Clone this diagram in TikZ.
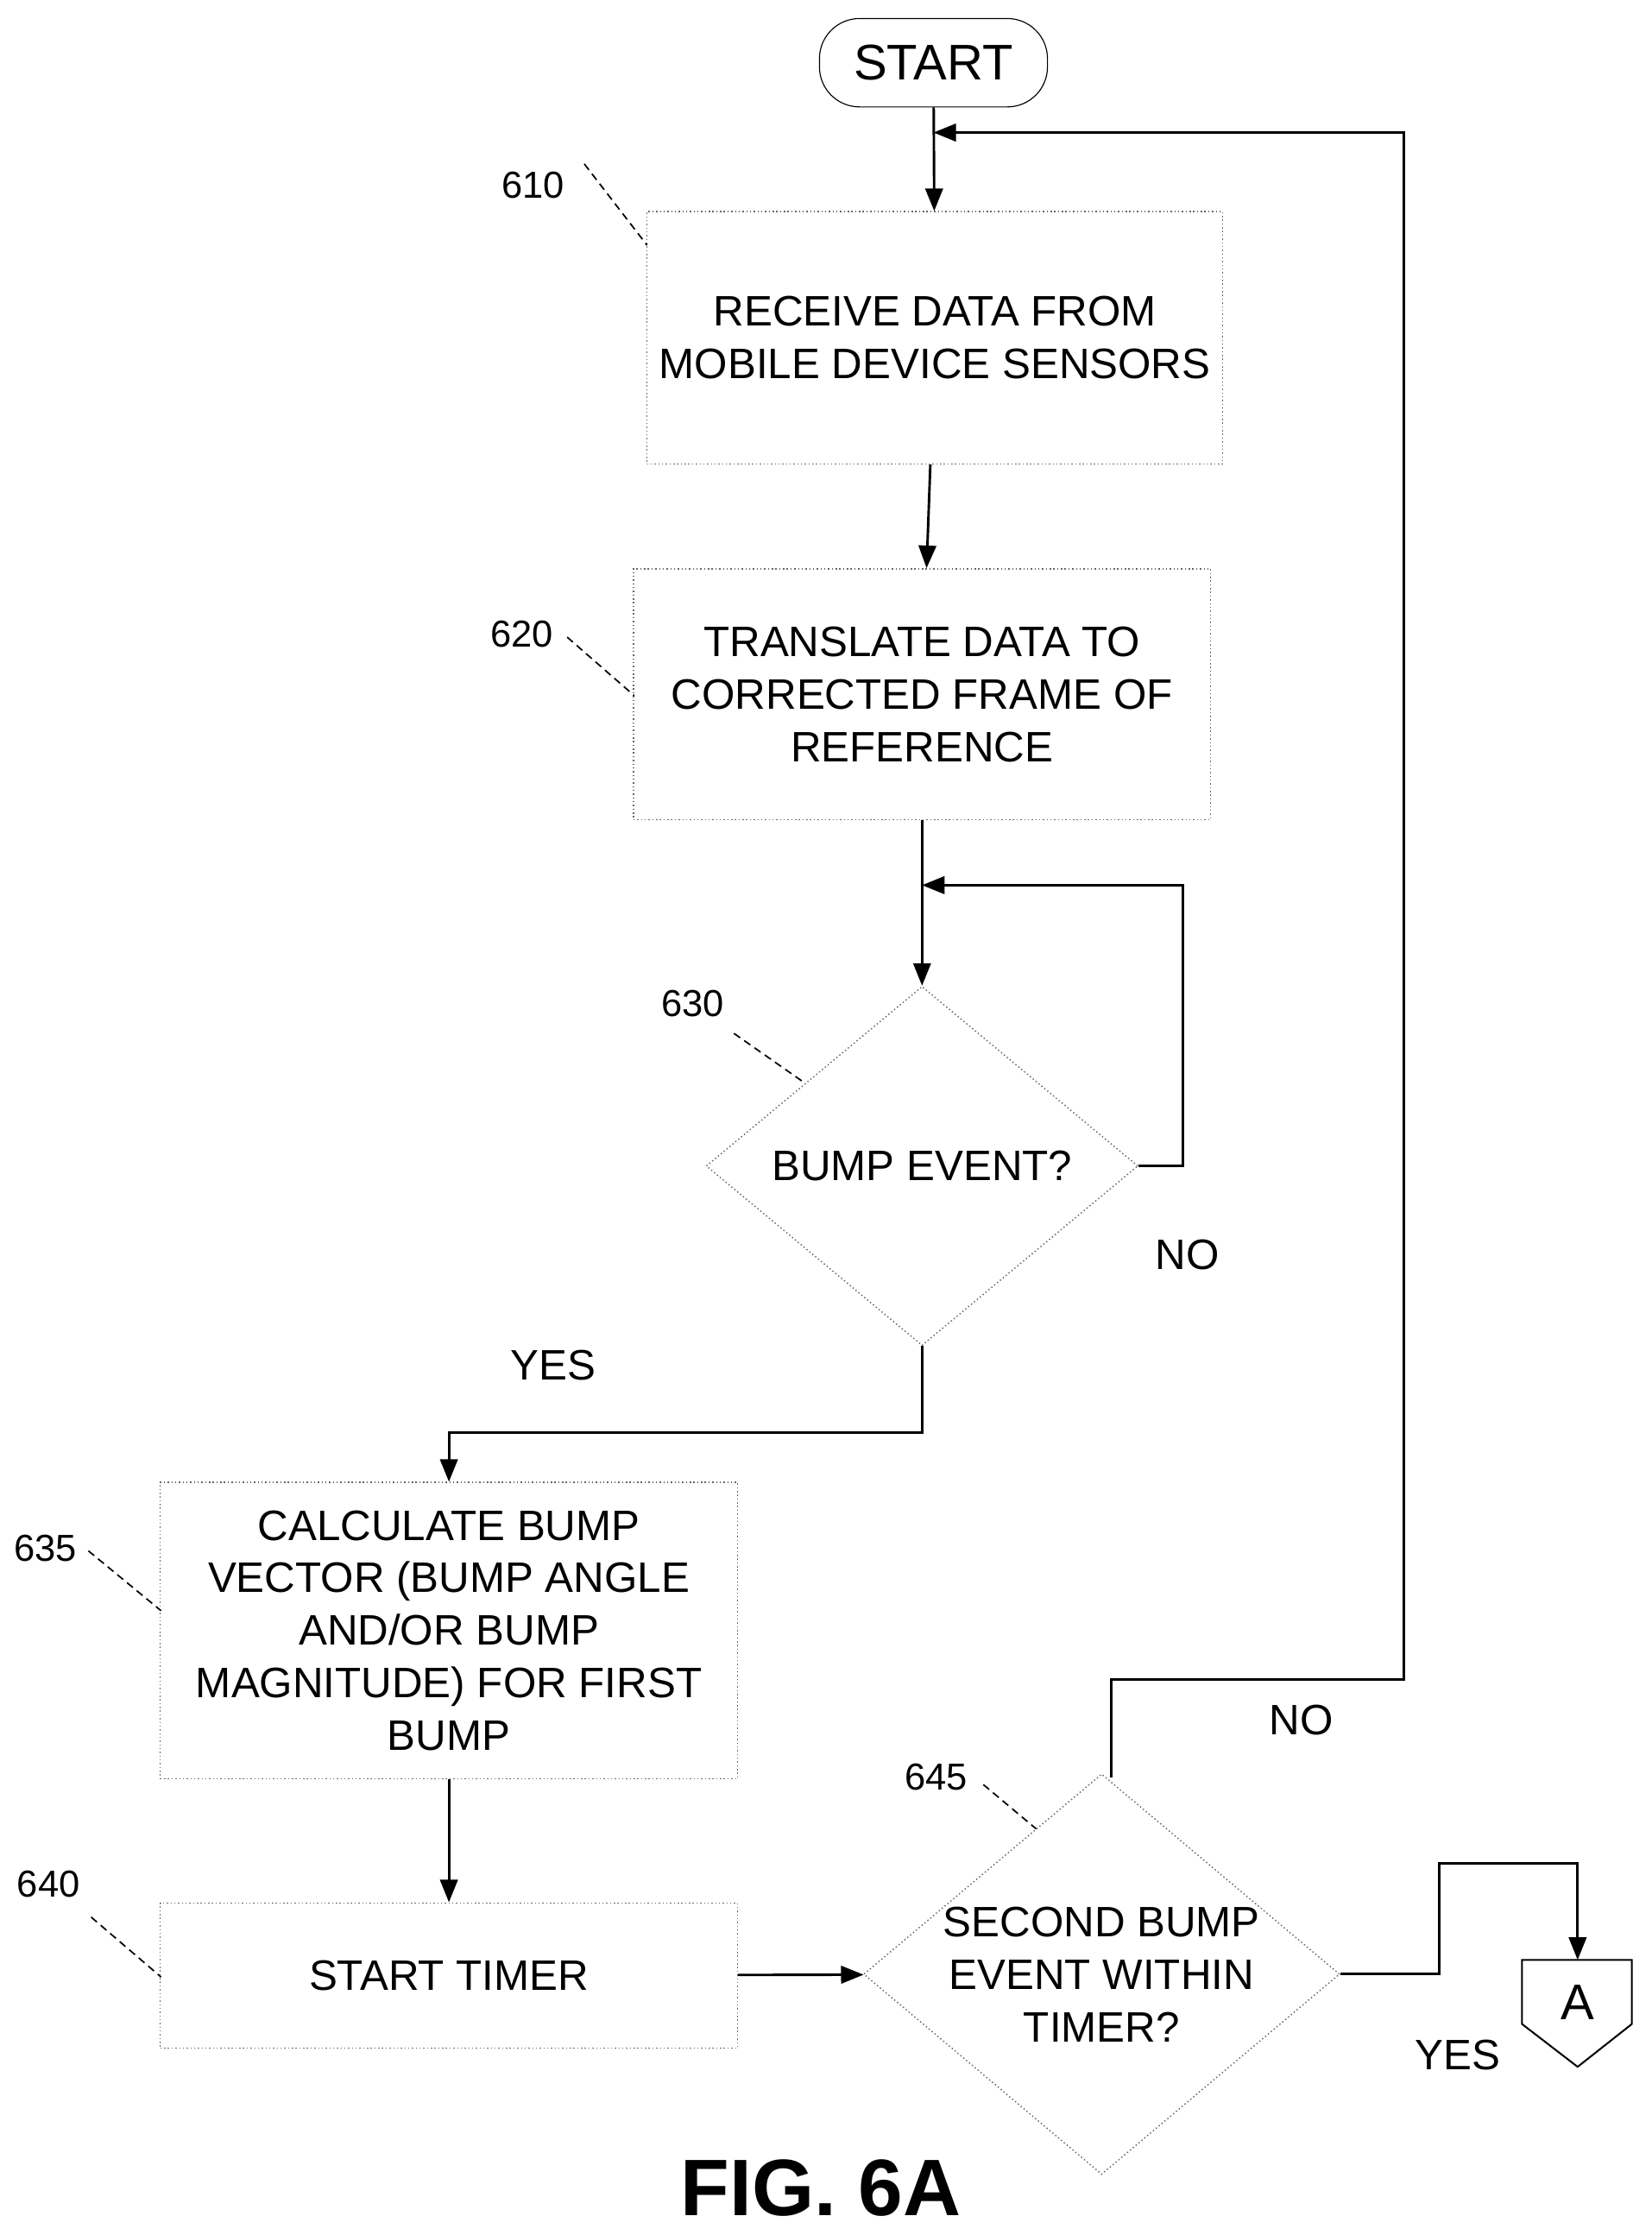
\documentclass[tikz,border=0pt]{standalone}
\usepackage{fontspec}
\setmainfont{Liberation Sans}
\usetikzlibrary{shapes.geometric,arrows.meta}
\begin{document}
\begin{tikzpicture}[x=0.02cm,y=-0.02cm,
  box/.style={draw=black!60,densely dotted,line width=0.5pt,align=center,font=\fontsize{17}{21}\selectfont,inner sep=0},
  txt/.style={font=\fontsize{17}{21}\selectfont},
  ref/.style={font=\fontsize{15}{18}\selectfont},
  lead/.style={line width=0.6pt,densely dashed},
  ln/.style={line width=1pt},
  arr/.style={ln,-{Triangle[length=9pt,width=7pt]}}]
\useasboundingbox (0,0) rectangle (1159,1568);
\node[draw,rounded corners=16pt,minimum width=160*0.02cm,minimum height=62*0.02cm,txt,font=\fontsize{20}{24}\selectfont] (start) at (655,44) {START};
\node[box,minimum width=404*0.02cm,minimum height=177*0.02cm] (b610) at (656,237) {RECEIVE DATA FROM\\MOBILE DEVICE SENSORS};
\node[box,minimum width=405*0.02cm,minimum height=176*0.02cm] (b620) at (647,487) {TRANSLATE DATA TO\\CORRECTED FRAME OF\\REFERENCE};
\node[draw=black!60,densely dotted,line width=0.5pt,diamond,aspect=1.2,minimum width=303*0.02cm,minimum height=252*0.02cm,inner sep=0] (d630) at (647,818) {};
\node[txt] at (647,818) {BUMP EVENT?};
\node[box,minimum width=405*0.02cm,minimum height=208*0.02cm] (b635) at (315,1144) {CALCULATE BUMP\\VECTOR (BUMP ANGLE\\AND/OR BUMP\\MAGNITUDE) FOR FIRST\\BUMP};
\node[box,minimum width=405*0.02cm,minimum height=102*0.02cm] (b640) at (315,1386) {START TIMER};
\node[draw=black!60,densely dotted,line width=0.5pt,diamond,aspect=1.19,minimum width=334*0.02cm,minimum height=281*0.02cm,inner sep=0] (d645) at (773,1385) {};
\node[txt,align=center] at (773,1385) {SECOND BUMP\\EVENT WITHIN\\TIMER?};
\draw[line width=0.7pt] (1068,1375) coordinate (a1) -- (1145,1375) -- (1145,1420) -- (1107,1450) -- (1068,1420) -- cycle;
\node[txt,font=\fontsize{20}{24}\selectfont] (A) at (1107,1405) {A};
\coordinate (atop) at (1107,1375);
% connectors
\draw[arr] (start) -- (b610);
\draw[arr] (b610) -- (b620);
\draw[arr] (b620) -- (d630);
\draw[arr] (d630.east) -- (830,818) -- (830,621) -- (647,621);
\draw[arr] (d630.south) -- (647,1005) -- (315,1005) -- (b635.north);
\draw[arr] (b635) -- (b640);
\draw[arr] (b640) -- (d645);
\draw[arr] (780,1247) -- (780,1178) -- (985,1178) -- (985,93) -- (655,93);
\draw[arr] (d645.east) -- (1010,1385) -- (1010,1307) -- (1107,1307) -- (atop);
% labels
\node[txt] at (833,880) {NO};
\node[txt] at (388,958) {YES};
\node[txt] at (913,1207) {NO};
\node[txt] at (1023,1442) {YES};
\node[ref] at (374,130) {610};
\node[ref] at (366,445) {620};
\node[ref] at (486,704) {630};
\node[ref] at (32,1086) {635};
\node[ref] at (34,1322) {640};
\node[ref] at (657,1247) {645};
\draw[lead] (410,115) -- (454,172);
\draw[lead] (398,447) -- (445,488);
\draw[lead] (515,725) -- (565,760);
\draw[lead] (62,1088) -- (113,1130);
\draw[lead] (64,1345) -- (113,1387);
\draw[lead] (690,1252) -- (727,1283);
\node[font=\bfseries\fontsize{32}{38}\selectfont] at (576,1535) {FIG. 6A};
\end{tikzpicture}
\end{document}
